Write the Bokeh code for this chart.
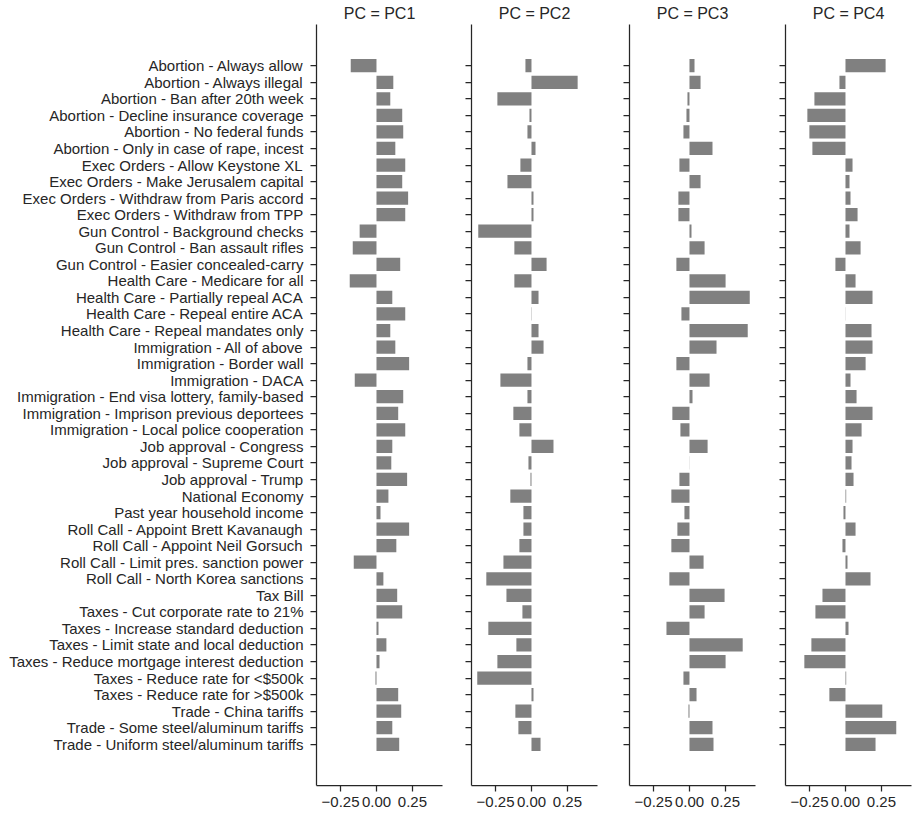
from bokeh.plotting import figure
from bokeh.layouts import row
from bokeh.models import Range1d, FixedTicker
from bokeh.embed import file_html
from bokeh.resources import INLINE

categories = [
    "Abortion - Always allow",
    "Abortion - Always illegal",
    "Abortion - Ban after 20th week",
    "Abortion - Decline insurance coverage",
    "Abortion - No federal funds",
    "Abortion - Only in case of rape, incest",
    "Exec Orders - Allow Keystone XL",
    "Exec Orders - Make Jerusalem capital",
    "Exec Orders - Withdraw from Paris accord",
    "Exec Orders - Withdraw from TPP",
    "Gun Control - Background checks",
    "Gun Control - Ban assault rifles",
    "Gun Control - Easier concealed-carry",
    "Health Care - Medicare for all",
    "Health Care - Partially repeal ACA",
    "Health Care - Repeal entire ACA",
    "Health Care - Repeal mandates only",
    "Immigration - All of above",
    "Immigration - Border wall",
    "Immigration - DACA",
    "Immigration - End visa lottery, family-based",
    "Immigration - Imprison previous deportees",
    "Immigration - Local police cooperation",
    "Job approval - Congress",
    "Job approval - Supreme Court",
    "Job approval - Trump",
    "National Economy",
    "Past year household income",
    "Roll Call - Appoint Brett Kavanaugh",
    "Roll Call - Appoint Neil Gorsuch",
    "Roll Call - Limit pres. sanction power",
    "Roll Call - North Korea sanctions",
    "Tax Bill",
    "Taxes - Cut corporate rate to 21%",
    "Taxes - Increase standard deduction",
    "Taxes - Limit state and local deduction",
    "Taxes - Reduce mortgage interest deduction",
    "Taxes - Reduce rate for <$500k",
    "Taxes - Reduce rate for >$500k",
    "Trade - China tariffs",
    "Trade - Some steel/aluminum tariffs",
    "Trade - Uniform steel/aluminum tariffs",
]

pc1 = [-0.179, 0.117, 0.096, 0.179, 0.186, 0.131, 0.200, 0.179, 0.220, 0.200,
       -0.117, -0.165, 0.165, -0.186, 0.110, 0.200, 0.096, 0.131, 0.227, -0.151,
       0.186, 0.151, 0.200, 0.110, 0.103, 0.213, 0.083, 0.028, 0.227, 0.138,
       -0.158, 0.048, 0.144, 0.179, 0.014, 0.069, 0.021, -0.007, 0.151, 0.172,
       0.110, 0.158]
pc2 = [-0.042, 0.321, -0.237, -0.014, -0.028, 0.028, -0.077, -0.167, 0.014, 0.014,
       -0.370, -0.119, 0.105, -0.119, 0.049, 0.002, 0.049, 0.084, -0.028, -0.216,
       -0.028, -0.126, -0.084, 0.153, -0.021, -0.007, -0.147, -0.056, -0.056, -0.084,
       -0.195, -0.314, -0.174, -0.063, -0.300, -0.105, -0.237, -0.377, 0.014, -0.112,
       -0.091, 0.063]
pc3 = [0.035, 0.077, -0.014, -0.021, -0.042, 0.160, -0.070, 0.077, -0.077, -0.077,
       0.014, 0.105, -0.091, 0.251, 0.419, -0.056, 0.405, 0.188, -0.091, 0.140,
       0.021, -0.119, -0.063, 0.126, 0.001, -0.070, -0.126, -0.035, -0.084, -0.126,
       0.098, -0.140, 0.244, 0.105, -0.160, 0.370, 0.251, -0.042, 0.049, -0.007,
       0.160, 0.167]
pc4 = [0.279, -0.042, -0.216, -0.265, -0.251, -0.230, 0.049, 0.028, 0.035, 0.084,
       0.028, 0.105, -0.070, 0.070, 0.188, 0.001, 0.181, 0.188, 0.140, 0.035,
       0.077, 0.188, 0.112, 0.049, 0.042, 0.056, 0.005, -0.014, 0.070, -0.021,
       0.014, 0.174, -0.160, -0.209, 0.021, -0.237, -0.286, 0.005, -0.112, 0.256,
       0.353, 0.209]

panel_titles = ["PC = PC1", "PC = PC2", "PC = PC3", "PC = PC4"]
x_ticks = [-0.25, 0.0, 0.25]
x_tick_labels = ["\u22120.25", "0.00", "0.25"]

series = [pc1, pc2, pc3, pc4]
idx = list(range(len(categories)))
n = len(categories)

TEXT = "#262626"
FONT = "Liberation Sans"
right_borders = [13, 16, 14, 4]

figs = []
for k, (title, vals) in enumerate(zip(panel_titles, series)):
    first = (k == 0)
    p = figure(
        frame_width=126, frame_height=761,
        x_range=Range1d(-0.417, 0.459),
        y_range=Range1d(n - 1 + 2.49, -2.49),
        output_backend="svg", toolbar_location=None,
        title=title,
        min_border_left=316 if first else 16,
        min_border_right=right_borders[k],
        min_border_top=21, min_border_bottom=0,
    )
    p.hbar(y=idx, left=0, right=vals, height=0.8,
           fill_color="#808080", line_color=None)

    p.title.align = "center"
    p.title.text_font = FONT
    p.title.text_font_size = "16px"
    p.title.text_font_style = "normal"
    p.title.text_color = TEXT
    p.title.standoff = 5

    p.outline_line_color = None
    p.xgrid.grid_line_color = None
    p.ygrid.grid_line_color = None
    p.background_fill_color = "white"
    p.border_fill_color = "white"

    for ax in (p.xaxis[0], p.yaxis[0]):
        ax.axis_line_color = TEXT
        ax.axis_line_width = 1.25
        ax.major_tick_line_color = TEXT
        ax.major_tick_line_width = 1.25
        ax.major_tick_out = 6
        ax.major_tick_in = 0
        ax.minor_tick_line_color = None
        ax.major_label_text_font = FONT
        ax.major_label_text_font_size = "15px"
        ax.major_label_text_color = TEXT

    p.xaxis[0].ticker = FixedTicker(ticks=x_ticks)
    p.xaxis[0].major_label_overrides = dict(zip(x_ticks, x_tick_labels))
    p.xaxis[0].major_label_standoff = 5

    p.yaxis[0].ticker = FixedTicker(ticks=idx)
    if first:
        p.yaxis[0].major_label_overrides = dict(zip(idx, categories))
        p.yaxis[0].major_label_standoff = 7
    else:
        p.yaxis[0].major_label_overrides = {i: "" for i in idx}
        p.yaxis[0].major_label_standoff = 0
    figs.append(p)

layout = row(*figs)
open("out.html", "w").write(file_html(layout, INLINE))
